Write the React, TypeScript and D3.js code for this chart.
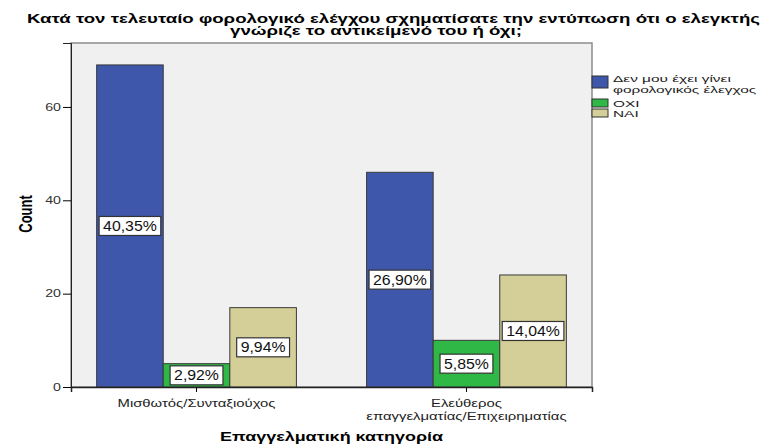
import React, {useEffect, useRef} from 'react';
import * as d3 from 'd3';

const categories = ['Μισθωτός/Συνταξιούχος', 'Ελεύθερος\nεπαγγελματίας/Επιχειρηματίας'];
const seriesNames = ['Δεν μου έχει γίνει\nφορολογικός έλεγχος', 'ΟΧΙ', 'ΝΑΙ'];
const seriesColors = ['#3e57ab', '#2fb845', '#d4cf98'];
const counts = [
  [69, 5, 17],
  [46, 10, 24],
];
const percentLabels = [
  ['40,35%', '2,92%', '9,94%'],
  ['26,90%', '5,85%', '14,04%'],
];
const yTicks = [0, 20, 40, 60];

const W = 771;
const H = 444;
// the reference is drawn wider than the font; stretch horizontal text
const STRETCH = 1.42;

export default function App() {
  const svgRef = useRef<SVGSVGElement>(null);

  useEffect(() => {
    if (!svgRef.current) return;
    const root = d3.select(svgRef.current);
    root.selectAll('*').remove();

    const font = 'Liberation Sans, Arial, sans-serif';
    const margin = {top: 43, left: 71, right: 179, bottom: 57};
    const width = W - margin.left - margin.right;
    const height = H - margin.top - margin.bottom;

    const widen = (t: d3.Selection<SVGTextElement, unknown, null, undefined>, k = STRETCH) => {
      const len = (t.node() as SVGTextElement).getComputedTextLength();
      t.attr('textLength', len * k).attr('lengthAdjust', 'spacingAndGlyphs');
      return t;
    };

    // Title
    const titleLines = [
      'Κατά τον τελευταίο φορολογικό ελέγχου σχηματίσατε την εντύπωση ότι ο ελεγκτής',
      'γνώριζε το αντικείμενό του ή όχι;',
    ];
    const titleX = [27, 230];
    const titleW = [733, 292];
    titleLines.forEach((line, i) => {
      root
        .append('text')
        .attr('x', titleX[i])
        .attr('y', 22.5 + i * 12.5)
        .attr('font-family', font)
        .attr('font-weight', 'bold')
        .attr('font-size', 12.5)
        .attr('fill', '#000')
        .attr('textLength', titleW[i])
        .attr('lengthAdjust', 'spacingAndGlyphs')
        .text(line);
    });

    const g = root.append('g').attr('transform', `translate(${margin.left},${margin.top})`);

    const x0 = d3.scaleBand<number>().domain(d3.range(categories.length)).range([0, width]).paddingInner(0.26).paddingOuter(0.095);
    const x1 = d3.scaleBand<number>().domain(d3.range(seriesNames.length)).range([0, x0.bandwidth()]);
    const y = d3.scaleLinear().domain([0, 73.7]).range([height, 0]);

    g.append('rect')
      .attr('width', width)
      .attr('height', height)
      .attr('fill', '#f0f0f0')
      .attr('stroke', '#8c8c8c')
      .attr('stroke-width', 1.5);

    // Bars
    counts.forEach((row, ci) => {
      const grp = g.append('g').attr('transform', `translate(${x0(ci)},0)`);
      row.forEach((v, si) => {
        grp
          .append('rect')
          .attr('x', x1(si)!)
          .attr('y', y(v))
          .attr('width', x1.bandwidth())
          .attr('height', height - y(v))
          .attr('fill', seriesColors[si])
          .attr('stroke', '#3a3a3a')
          .attr('stroke-width', 1);
      });
      row.forEach((v, si) => {
        const cx = x1(si)! + x1.bandwidth() / 2;
        const cy = y(v / 2);
        const lbl = grp.append('g');
        const box = lbl.append('rect');
        const t = lbl
          .append('text')
          .attr('x', cx)
          .attr('y', cy + 5)
          .attr('text-anchor', 'middle')
          .attr('font-family', font)
          .attr('font-size', 14)
          .attr('fill', '#111')
          .text(percentLabels[ci][si]);
        widen(t, 1.13);
        const w = +t.attr('textLength');
        box
          .attr('x', cx - w / 2 - 4)
          .attr('y', cy - 9.5)
          .attr('width', w + 8)
          .attr('height', 19)
          .attr('fill', '#fff')
          .attr('stroke', '#333')
          .attr('stroke-width', 1.2);
      });
    });

    // Axes
    const yAxis = g
      .append('g')
      .call(d3.axisLeft(y).tickValues(yTicks).tickSize(8).tickPadding(2))
      .call((s) => s.selectAll('text').attr('font-family', font).attr('font-size', 10).attr('fill', '#333'));
    yAxis.select('.domain').attr('stroke', '#222');
    yAxis.selectAll<SVGTextElement, unknown>('text').each(function () {
      widen(d3.select(this) as any);
    });

    const xAxis = g
      .append('g')
      .attr('transform', `translate(0,${height})`)
      .call(d3.axisBottom(x0).tickSize(5).tickFormat(() => ''));
    xAxis.select('.domain').attr('stroke', '#222').attr('stroke-width', 1.5);

    categories.forEach((c, ci) => {
      const cx = x0(ci)! + x0.bandwidth() / 2;
      c.split('\n').forEach((line, li) => {
        const t = g
          .append('text')
          .attr('x', cx)
          .attr('y', height + 20 + li * 13)
          .attr('text-anchor', 'middle')
          .attr('font-family', font)
          .attr('font-size', 11)
          .attr('fill', '#222')
          .text(line);
        widen(t, 1.35);
      });
    });

    const xt = g
      .append('text')
      .attr('x', width / 2)
      .attr('y', height + 54)
      .attr('text-anchor', 'middle')
      .attr('font-family', font)
      .attr('font-weight', 'bold')
      .attr('font-size', 13)
      .text('Επαγγελματική κατηγορία');
    widen(xt, 1.38);

    root
      .append('text')
      .attr('transform', `translate(31.5,214) scale(${STRETCH},1) rotate(-90)`)
      .attr('text-anchor', 'middle')
      .attr('font-family', font)
      .attr('font-weight', 'bold')
      .attr('font-size', 13)
      .text('Count');

    // Legend
    const lx = margin.left + width;
    const swatchY = [76, 99, 109];
    const swatchH = [12, 8, 8];
    const legendBaselines = [[82, 93], [106.5], [117]];
    seriesNames.forEach((name, si) => {
      root
        .append('rect')
        .attr('x', lx)
        .attr('y', swatchY[si])
        .attr('width', 16)
        .attr('height', swatchH[si])
        .attr('fill', seriesColors[si])
        .attr('stroke', '#333')
        .attr('stroke-width', 1);
      name.split('\n').forEach((line, li) => {
        const t = root
          .append('text')
          .attr('x', lx + 21)
          .attr('y', legendBaselines[si][li])
          .attr('font-family', font)
          .attr('font-size', 9.5)
          .attr('fill', '#222')
          .text(line);
        widen(t, 1.62);
      });
    });
  }, []);

  return <svg ref={svgRef} width={W} height={H} style={{position: 'absolute', left: 0, top: 0, background: '#fff'}} />;
}
